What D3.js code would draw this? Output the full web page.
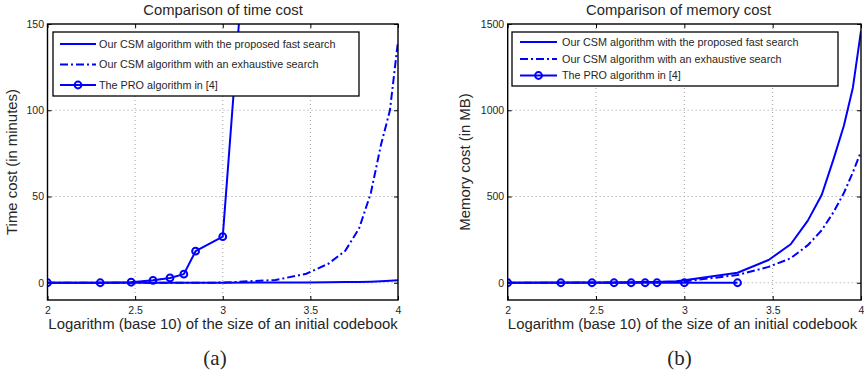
<!DOCTYPE html>
<html>
<head>
<meta charset="utf-8">
<script src="https://cdn.jsdelivr.net/npm/d3@7"></script>
<style>
  html, body { margin: 0; padding: 0; background: #fff; }
  svg { display: block; }
  text { font-family: "Liberation Sans", Arial, Helvetica, sans-serif; fill: #262626; }
</style>
</head>
<body>
<svg id="chart" width="864" height="377"></svg>
<script>
// ---------------- data ----------------
// log10 of the size of the initial codebook (100..1000 step 100, 2000..10000 step 1000)
const logSize = [2, 2.301, 2.477, 2.602, 2.699, 2.778, 2.845, 2.903, 2.954, 3,
                 3.301, 3.477, 3.602, 3.699, 3.778, 3.845, 3.903, 3.954, 4];
// time cost (minutes)
const timeFast       = [0, 0, 0, 0.01, 0.01, 0.02, 0.02, 0.03, 0.03, 0.04,
                        0.1, 0.2, 0.3, 0.4, 0.5, 0.65, 0.85, 1.1, 1.4];
const timeExhaustive = [0, 0, 0, 0, 0.01, 0.02, 0.03, 0.05, 0.07, 0.1,
                        1.6, 5.2, 11, 18.5, 31.5, 52, 80, 100, 140];
// memory cost (MB)
const memFast        = [0.5, 1, 1.5, 2, 3, 4, 5, 7, 9, 15,
                        58, 132, 223, 360, 510, 718, 910, 1131, 1460];
const memExhaustive  = [0.2, 0.5, 1, 1.5, 2, 2.5, 3, 4, 5, 8,
                        45, 92, 142, 218, 305, 410, 520, 640, 760];
// PRO algorithm in [4]
const proLogSize = [2, 2.301, 2.477, 2.602, 2.699, 2.778, 2.845, 3, 3.301];
const proTime    = [0, 0, 0.3, 1.4, 2.8, 5, 18.3, 26.7, 430];
const proMem     = [0, 0, 0, 0, 0, 0, 0, 0, 0];

const xTicks    = [2, 2.5, 3, 3.5, 4];
const timeTicks = [0, 50, 100, 150];
const memTicks  = [0, 500, 1000, 1500];

const seriesLabels = [
  "Our CSM algorithm with the proposed fast search",
  "Our CSM algorithm with an exhaustive search",
  "The PRO algorithm in [4]"
];
const titles  = ["Comparison of time cost", "Comparison of memory cost"];
const yLabels = ["Time cost (in minutes)", "Memory cost (in MB)"];
const xLabel  = "Logarithm (base 10) of the size of an initial codebook";
const captions = ["(a)", "(b)"];

// ---------------- drawing ----------------
const svg = d3.select("#chart");
const BLUE = "#0000ff";

const panels = [
  {
    id: "a", left: 47.5, right: 398, top: 24, bottom: 300,
    yDomain: [-10, 150], yTicks: timeTicks,
    fast: timeFast, exh: timeExhaustive, pro: proTime,
    title: titles[0], yLabel: yLabels[0], caption: captions[0],
    titleX: 223, xLabelX: 223, captionX: 215, yLabelX: 17,
    legend: { x0: 53, y0: 32, x1: 359, y1: 96, rows: [44, 64.5, 85], lx0: 60, lx1: 96, tx: 99 }
  },
  {
    id: "b", left: 507.7, right: 861, top: 24, bottom: 300,
    yDomain: [-100, 1500], yTicks: memTicks,
    fast: memFast, exh: memExhaustive, pro: proMem,
    title: titles[1], yLabel: yLabels[1], caption: captions[1],
    titleX: 678.5, xLabelX: 682.5, captionX: 679.5, yLabelX: 470,
    legend: { x0: 512, y0: 32, x1: 838, y1: 86, rows: [42, 59, 75.5], lx0: 520, lx1: 557, tx: 562 }
  }
];

panels.forEach(p => {
  const x = d3.scaleLinear().domain([2, 4]).range([p.left, p.right]);
  const y = d3.scaleLinear().domain(p.yDomain).range([p.bottom, p.top]);
  const g = svg.append("g");

  // clip
  const clipId = "clip-" + p.id;
  svg.append("defs").append("clipPath").attr("id", clipId)
    .append("rect").attr("x", p.left).attr("y", p.top)
    .attr("width", p.right - p.left).attr("height", p.bottom - p.top);

  // grid
  const grid = g.append("g").attr("stroke", "#a0a0a0").attr("stroke-width", 1)
    .attr("stroke-dasharray", "1,3");
  xTicks.filter(t => t > 2 && t < 4).forEach(t => {
    grid.append("line").attr("x1", x(t)).attr("x2", x(t))
      .attr("y1", p.top).attr("y2", p.bottom);
  });
  p.yTicks.filter(t => y(t) > p.top + 1).forEach(t => {
    grid.append("line").attr("x1", p.left).attr("x2", p.right)
      .attr("y1", y(t)).attr("y2", y(t));
  });

  // axes (ticks inside, Matlab style)
  const fmt = d3.format("");
  const axB = g.append("g").attr("transform", `translate(0,${p.bottom})`)
    .call(d3.axisBottom(x).tickValues(xTicks).tickSizeInner(-4).tickSizeOuter(0)
      .tickPadding(6.5).tickFormat(fmt));
  const axL = g.append("g").attr("transform", `translate(${p.left},0)`)
    .call(d3.axisLeft(y).tickValues(p.yTicks).tickSizeInner(-4).tickSizeOuter(0)
      .tickPadding(3.5).tickFormat(fmt));
  const axT = g.append("g").attr("transform", `translate(0,${p.top})`)
    .call(d3.axisTop(x).tickValues(xTicks).tickSizeInner(-4).tickSizeOuter(0).tickFormat(""));
  const axR = g.append("g").attr("transform", `translate(${p.right},0)`)
    .call(d3.axisRight(y).tickValues(p.yTicks).tickSizeInner(-4).tickSizeOuter(0).tickFormat(""));
  [axB, axL, axT, axR].forEach(a => {
    a.select(".domain").remove();
    a.selectAll(".tick line").attr("stroke", "#000").attr("stroke-width", 1);
    a.selectAll(".tick text").attr("font-family", "Liberation Sans, Arial, sans-serif")
      .attr("font-size", 10.5).attr("fill", "#262626");
  });

  // series
  const lineGen = (xs, ys) => d3.line().x((d, i) => x(xs[i])).y((d, i) => y(ys[i]))(ys);
  const plot = g.append("g").attr("clip-path", `url(#${clipId})`);
  plot.append("path").attr("d", lineGen(logSize, p.fast))
    .attr("fill", "none").attr("stroke", BLUE).attr("stroke-width", 2)
    .attr("stroke-linejoin", "round");
  plot.append("path").attr("d", lineGen(logSize, p.exh))
    .attr("fill", "none").attr("stroke", BLUE).attr("stroke-width", 2)
    .attr("stroke-dasharray", "8,3,2,3");
  plot.append("path").attr("d", lineGen(proLogSize, p.pro))
    .attr("fill", "none").attr("stroke", BLUE).attr("stroke-width", 2)
    .attr("stroke-linejoin", "round");
  plot.selectAll("circle.pro").data(p.pro).enter().append("circle")
    .attr("class", "pro")
    .attr("cx", (d, i) => x(proLogSize[i])).attr("cy", d => y(d)).attr("r", 3.4)
    .attr("fill", "none").attr("stroke", BLUE).attr("stroke-width", 2);

  // box
  g.append("rect").attr("x", p.left).attr("y", p.top)
    .attr("width", p.right - p.left).attr("height", p.bottom - p.top)
    .attr("fill", "none").attr("stroke", "#000").attr("stroke-width", 1.4);

  // legend
  const L = p.legend;
  const lg = g.append("g");
  lg.append("rect").attr("x", L.x0).attr("y", L.y0)
    .attr("width", L.x1 - L.x0).attr("height", L.y1 - L.y0)
    .attr("fill", "#fff").attr("stroke", "#000").attr("stroke-width", 1.3);
  const dashes = [null, "8,3,2,3", null];
  seriesLabels.forEach((lab, i) => {
    const ly = L.rows[i];
    const ln = lg.append("line").attr("x1", L.lx0).attr("x2", L.lx1)
      .attr("y1", ly).attr("y2", ly).attr("stroke", BLUE).attr("stroke-width", 2);
    if (dashes[i]) ln.attr("stroke-dasharray", dashes[i]);
    if (i === 2) {
      lg.append("circle").attr("cx", (L.lx0 + L.lx1) / 2).attr("cy", ly).attr("r", 3.4)
        .attr("fill", "none").attr("stroke", BLUE).attr("stroke-width", 2);
    }
    lg.append("text").attr("x", L.tx).attr("y", ly).attr("dy", "0.36em")
      .attr("font-size", 10.8).text(lab);
  });

  // title
  svg.append("text").attr("x", p.titleX).attr("y", 15).attr("text-anchor", "middle")
    .attr("font-size", 14.8).text(p.title);
  // x label
  svg.append("text").attr("x", p.xLabelX).attr("y", 329).attr("text-anchor", "middle")
    .attr("font-size", 14.9).text(xLabel);
  // y label
  svg.append("text")
    .attr("transform", `translate(${p.yLabelX},${(p.top + p.bottom) / 2}) rotate(-90)`)
    .attr("text-anchor", "middle").attr("font-size", 14.9).text(p.yLabel);
  // caption
  svg.append("text").attr("x", p.captionX).attr("y", 365).attr("text-anchor", "middle")
    .style("font-family", "'Liberation Serif', 'DejaVu Serif', serif")
    .attr("font-size", 21).attr("fill", "#222").text(p.caption);
});
</script>
</body>
</html>
